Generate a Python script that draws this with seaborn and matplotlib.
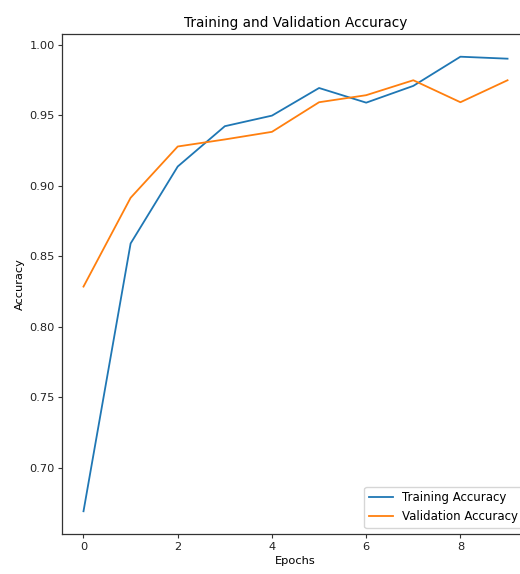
import numpy as np
import pandas as pd
import seaborn as sns
import matplotlib
matplotlib.use('Agg')
import matplotlib.pyplot as plt

# accuracy per epoch
epochs = [0, 1, 2, 3, 4, 5, 6, 7, 8, 9]
train_acc = [0.669, 0.859, 0.9136, 0.9422, 0.9497, 0.9693, 0.9589, 0.9708, 0.9915, 0.9901]
val_acc = [0.8284, 0.8914, 0.9278, 0.9328, 0.9382, 0.9592, 0.9642, 0.9748, 0.9592, 0.9748]
series_names = ['Training Accuracy', 'Validation Accuracy']

df = pd.DataFrame({
    'Epochs': epochs * 2,
    'Accuracy': train_acc + val_acc,
    'series': [series_names[0]] * len(epochs) + [series_names[1]] * len(epochs),
})

fs = 8.2
fig = plt.figure(figsize=(5.2, 5.74), dpi=100)
# axes run past the right edge, like the cropped screenshot
ax = fig.add_axes([0.1198, 0.0697, 0.897, 0.8711])

sns.lineplot(data=df, x='Epochs', y='Accuracy', hue='series',
             palette=['#1f77b4', '#ff7f0e'], linewidth=1.3, ax=ax)

ax.set_title('Training and Validation Accuracy', fontsize=9.8, pad=5)
ax.set_xlabel('Epochs', fontsize=fs, labelpad=3)
ax.set_ylabel('Accuracy', fontsize=fs, labelpad=3)
ax.tick_params(labelsize=fs, width=0.8, length=3, pad=2.5, colors='#333333', labelcolor='#222222')
for s in ax.spines.values():
    s.set_linewidth(0.9)
    s.set_color('#333333')
ax.legend(loc='lower right', fontsize=8.5, title=None, handlelength=2.0)

fig.savefig('out.png', dpi=100)
